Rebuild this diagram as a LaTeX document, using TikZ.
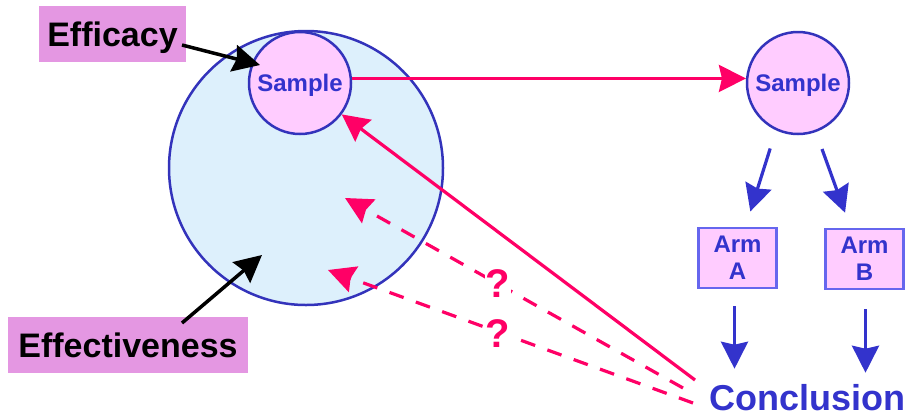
\documentclass[tikz,border=0pt]{standalone}
\usepackage{fontspec}
\setmainfont{Liberation Sans}
\usetikzlibrary{arrows.meta}
\definecolor{popblue}{HTML}{DDF0FC}
\definecolor{edgeblue}{HTML}{3333BB}
\definecolor{txtblue}{HTML}{3333CC}
\definecolor{pinkfill}{HTML}{FFCCFF}
\definecolor{armedge}{HTML}{6666EE}
\definecolor{labelfill}{HTML}{E497E2}
\definecolor{hotred}{HTML}{FF0066}
\tikzset{
  tip/.style={-{Stealth[length=27pt,width=27pt,inset=3pt]}},
  samplenode/.style={circle,draw=edgeblue,line width=2.5pt,fill=pinkfill,minimum size=102pt,inner sep=0pt,
    font=\fontsize{24}{28}\selectfont\bfseries,text=txtblue,text height=17pt,text depth=0pt},
  labelbox/.style={rectangle,fill=labelfill,inner sep=0pt,minimum height=56pt,
    font=\fontsize{34}{40}\selectfont\bfseries,text=black,text height=25pt,text depth=0pt},
  armbox/.style={rectangle,draw=armedge,line width=2.5pt,fill=pinkfill,minimum width=78pt,minimum height=60pt,
    inner sep=0pt,align=center,font=\fontsize{24}{27}\selectfont\bfseries,text=txtblue},
  redarrow/.style={tip,draw=hotred,line width=3.2pt},
  bluearrow/.style={tip,draw=txtblue,line width=3.2pt},
  blackarrow/.style={tip,draw=black,line width=3.5pt},
  qmark/.style={fill=white,inner sep=1pt,font=\fontsize{40}{44}\selectfont\bfseries,text=hotred,
    text height=29pt,text depth=0pt},
}
\begin{document}
\begin{tikzpicture}[x=1pt,y=-1pt]
\useasboundingbox (0,0) rectangle (908,416);
% population and samples
\node[circle,draw=edgeblue,line width=2.5pt,fill=popblue,minimum size=274pt,inner sep=0pt] (pop) at (306,168) {};
\node[samplenode] (sample1) at (300,83) {Sample};
\node[samplenode] (sample2) at (798,83) {Sample};
% labels
\node[labelbox,minimum width=147pt] (efficacy) at (112.5,34) {Efficacy};
\node[labelbox,minimum width=240pt] (effect) at (128,345) {Effectiveness};
% arms
\node[armbox] (armA) at (737.5,258) {Arm\\A};
\node[armbox] (armB) at (864.5,259) {Arm\\B};
\node[anchor=base west,inner sep=0pt,font=\fontsize{36}{40}\selectfont\bfseries,text=txtblue] (concl) at (709,410) {Conclusion};
% coordinates
\coordinate (efA) at (182,45);
\coordinate (efB) at (260,65);
\coordinate (evA) at (182,323);
\coordinate (evB) at (262,255);
\coordinate (solidS) at (695,380);
\coordinate (d1S) at (683,388);
\coordinate (d1E) at (345,198);
\coordinate (d2S) at (693,403);
\coordinate (d2E) at (328,270);
% arrows
\draw[blackarrow] (efA) -- (efB);
\draw[blackarrow] (evA) -- (evB);
\draw[redarrow] (sample1.5) -- (sample2.175);
\draw[redarrow] (solidS) -- (sample1);
\draw[redarrow,dash pattern=on 15pt off 13pt] (d1S) -- (d1E);
\draw[redarrow,dash pattern=on 15pt off 13pt] (d2S) -- (d2E);
\draw[bluearrow,shorten <=19pt,shorten >=16pt] (sample2.245) -- ([xshift=8pt]armA.north);
\draw[bluearrow,shorten <=18pt,shorten >=16pt] (sample2.290) -- ([xshift=-14pt]armB.north);
\draw[bluearrow,shorten <=17pt] ([xshift=-3pt]armA.south) -- ([xshift=-3pt,yshift=15pt]armA.south |- concl.north);
\draw[bluearrow,shorten <=19pt] ([xshift=1pt]armB.south) -- ([xshift=1pt,yshift=11pt]armB.south |- concl.north);
% question marks
\node[qmark] (q1) at (498,283) {?};
\node[qmark] (q2) at (498,333) {?};
\end{tikzpicture}
\end{document}
